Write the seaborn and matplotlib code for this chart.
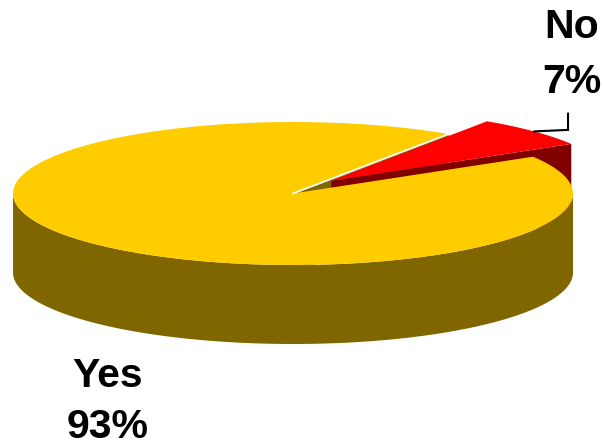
import numpy as np
import matplotlib
matplotlib.use("Agg")
import matplotlib.pyplot as plt
import seaborn as sns
from matplotlib.patches import Polygon

# ---- data ----
labels = ["Yes", "No"]
values = [93, 7]
top_colors = ["#FFCC00", "#FF0000"]
side_colors = ["#806600", "#800000"]
explode = [0.0, 0.225]
start_angle = 56.2

sns.set_theme(style="white")
plt.rcParams['font.family'] = ['Liberation Sans', 'DejaVu Sans']

fig = plt.figure(figsize=(6.03, 4.46), dpi=100)
ax = fig.add_axes([0, 0, 1, 1])
ax.set_xlim(0, 603)
ax.set_ylim(446, 0)
ax.axis('off')

CX, CY, A, B, D = 293, 193.5, 280, 71.5, 79
EXPLODE_SKEW = 9.0  # perspective skew of the explode direction (degrees)


def pts(t_deg, r=1.0, off=(0.0, 0.0), z=0.0):
    t = np.radians(np.atleast_1d(t_deg))
    u = r * np.cos(t) + off[0]
    v = r * np.sin(t) + off[1]
    return np.column_stack([CX + A * u, CY - B * v + z])


total = float(sum(values))
slices = []
ang = start_angle
for lab, val, tc, sc, ex in zip(labels, values, top_colors, side_colors, explode):
    t1 = ang
    t2 = ang + 360.0 * val / total
    mid = (t1 + t2) / 2
    ed = np.radians(mid + EXPLODE_SKEW)
    off = (ex * np.cos(ed), ex * np.sin(ed))
    slices.append(dict(label=lab, val=val, t1=t1, t2=t2, off=off, tc=tc, sc=sc, mid=mid, ex=ex))
    ang = t2


def radial_face(t, off):
    c_top = pts(0, r=0, off=off)[0]
    r_top = pts(t, off=off)[0]
    return np.array([c_top, r_top, r_top + [0, D], c_top + [0, D]])


# 1. visible radial faces
for s in slices:
    if np.cos(np.radians(s['t1'])) > 0:
        ax.add_patch(Polygon(radial_face(s['t1'], s['off']), closed=True,
                             facecolor=s['sc'], edgecolor='none', zorder=1))
    if np.cos(np.radians(s['t2'])) < 0:
        ax.add_patch(Polygon(radial_face(s['t2'], s['off']), closed=True,
                             facecolor=s['sc'], edgecolor='none', zorder=1))


def front_range(s):
    for k in range(-1, 3):
        lo = max(s['t1'], 180 + 360 * k)
        hi = min(s['t2'], 360 + 360 * k)
        if hi > lo:
            return lo, hi
    return None


order = sorted(slices, key=lambda s: front_range(s) is not None)
z = 2
for s in order:
    fr = front_range(s)
    if fr is not None:
        ts = np.linspace(fr[0], fr[1], 200)
        top = pts(ts, off=s['off'])
        bot = pts(ts[::-1], off=s['off'], z=D)
        ax.add_patch(Polygon(np.vstack([top, bot]), closed=True,
                             facecolor=s['sc'], edgecolor='none', zorder=z))
        z += 1
    ts = np.linspace(s['t1'], s['t2'], 300)
    poly = np.vstack([pts(0, r=0, off=s['off']), pts(ts, off=s['off'])])
    ax.add_patch(Polygon(poly, closed=True, facecolor=s['tc'], edgecolor='none', zorder=z))
    z += 1

# thin white seam along the first slice's start edge
s0 = slices[0]
seam = np.vstack([pts(0, r=0, off=s0['off']), pts(s0['t1'], off=s0['off'])])
ax.plot(seam[:, 0], seam[:, 1], color='white', lw=1.3, zorder=z)

# leader line for the exploded slice
s1 = slices[1]
p0 = pts(s1['mid'], off=s1['off'])[0]
ax.plot([p0[0], p0[0] + 34, p0[0] + 34], [p0[1], p0[1] - 1.5, p0[1] - 18],
        color='black', lw=1.5, zorder=z + 1, solid_joinstyle='miter')

# labels
label_pos = {"Yes": (108, 387), "No": (572, 38)}
line_step = {"Yes": 51, "No": 55}
for s in slices:
    x, y = label_pos[s['label']]
    ax.text(x, y, s['label'], ha='center', va='baseline', fontsize=29.5,
            fontweight='bold', color='black', zorder=20)
    ax.text(x, y + line_step[s['label']], f"{s['val']}%", ha='center', va='baseline',
            fontsize=29.5, fontweight='bold', color='black', zorder=20)

fig.savefig("out.png", dpi=100)
